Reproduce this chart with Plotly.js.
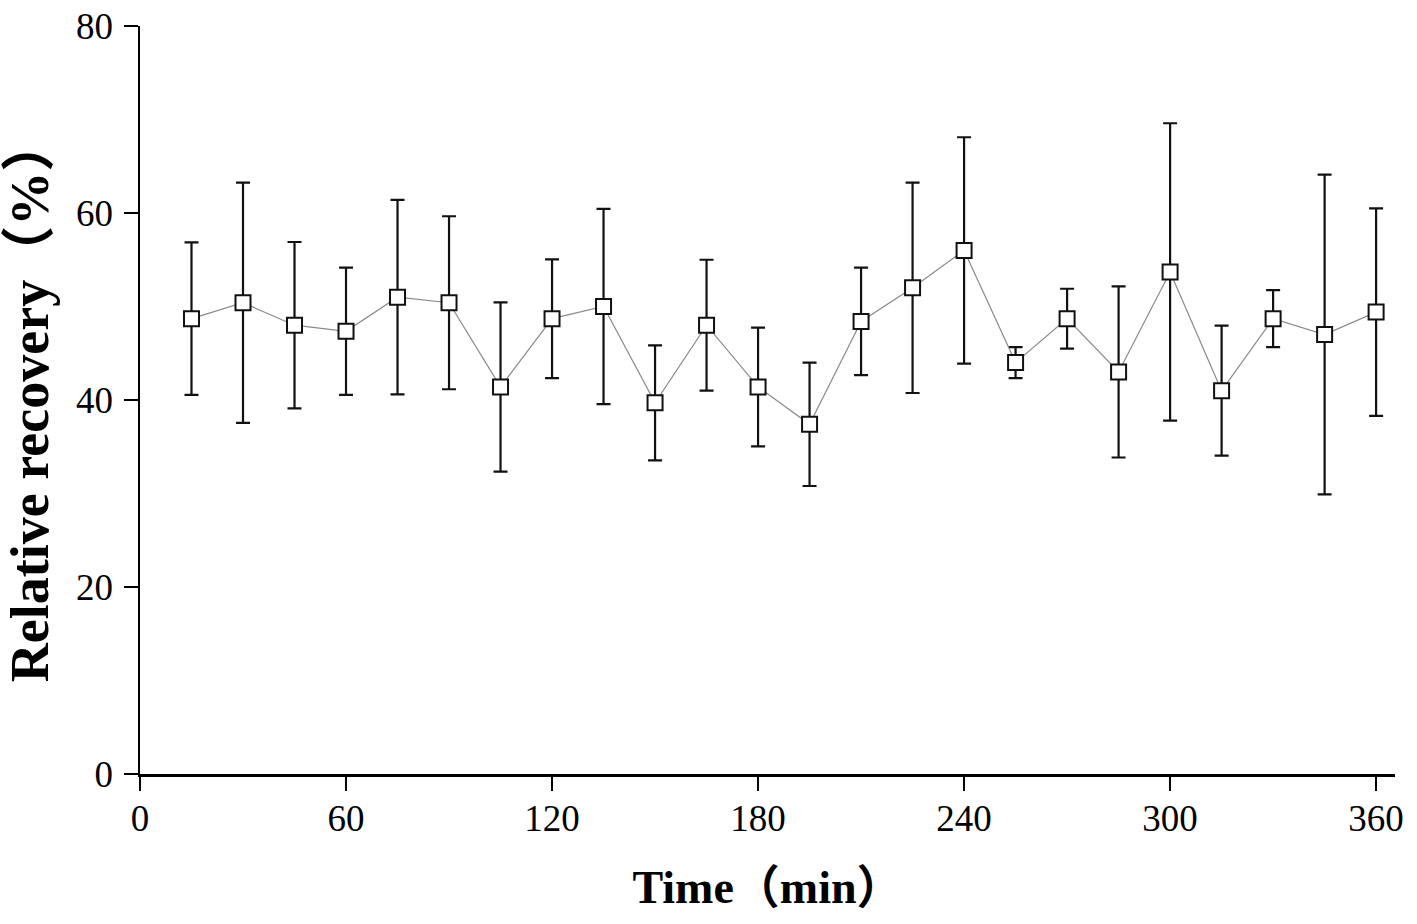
<!DOCTYPE html>
<html>
<head>
<meta charset="utf-8">
<script src="https://cdn.plot.ly/plotly-3.0.1.min.js"></script>
<style>
html,body{margin:0;padding:0;background:#fff;}
#chart{width:1417px;height:924px;}
</style>
</head>
<body>
<div id="chart"></div>
<script>
// Time points (min)
var timeMin = [15,30,45,60,75,90,105,120,135,150,165,180,195,210,225,240,255,270,285,300,315,330,345,360];
// Mean relative recovery (%)
var recovery = [48.7,50.4,48.0,47.35,51.0,50.4,41.4,48.7,50.0,39.7,48.0,41.4,37.4,48.4,52.0,56.0,44.0,48.7,43.0,53.7,41.0,48.7,47.0,49.4];
// Error (SD, %)
var errSD = [8.15,12.85,8.9,6.8,10.4,9.25,9.05,6.35,10.45,6.15,7.0,6.35,6.6,5.75,11.25,12.1,1.65,3.2,9.15,15.9,6.95,3.05,17.1,11.1];
// Axis ticks
var xTicks = [0,60,120,180,240,300,360];
var yTicks = [0,20,40,60,80];

var serif = '"Liberation Serif","Times New Roman",Times,"Noto Sans CJK SC",serif';

var trace = {
  x: timeMin,
  y: recovery,
  type: 'scatter',
  mode: 'lines+markers',
  line: {color: '#8a8a8a', width: 1.2},
  marker: {symbol: 'square', size: 15, color: '#ffffff', line: {color: '#111111', width: 2}},
  error_y: {type: 'data', array: errSD, visible: true, color: '#111111', thickness: 2.2, width: 7},
  hoverinfo: 'x+y'
};

var layout = {
  width: 1417,
  height: 924,
  margin: {l: 140, r: 22, t: 26, b: 150},
  paper_bgcolor: '#ffffff',
  plot_bgcolor: '#ffffff',
  showlegend: false,
  xaxis: {
    range: [0, 365.5],
    tickvals: xTicks,
    ticktext: xTicks.map(String),
    showgrid: false,
    zeroline: false,
    showline: true,
    linecolor: '#000000',
    linewidth: 2.5,
    ticks: 'outside',
    ticklen: 14,
    tickwidth: 2.5,
    tickcolor: '#000000',
    ticklabelstandoff: -4,
    tickfont: {family: serif, size: 37, color: '#000000'},
    title: {text: '<b>Time（min）</b>', font: {family: serif, size: 46, color: '#000000'}, standoff: 33},
    automargin: false
  },
  yaxis: {
    range: [0, 80],
    tickvals: yTicks,
    ticktext: yTicks.map(String),
    showgrid: false,
    zeroline: false,
    showline: true,
    linecolor: '#000000',
    linewidth: 2.5,
    ticks: 'outside',
    ticklen: 14,
    tickwidth: 2.5,
    tickcolor: '#000000',
    ticklabelstandoff: 3,
    tickfont: {family: serif, size: 37, color: '#000000'},
    title: {text: '<b>Relative recovery（%）</b>', font: {family: serif, size: 54, color: '#000000'}, standoff: 10},
    automargin: false
  }
};

Plotly.newPlot('chart', [trace], layout, {displayModeBar: false, staticPlot: true});
</script>
</body>
</html>
